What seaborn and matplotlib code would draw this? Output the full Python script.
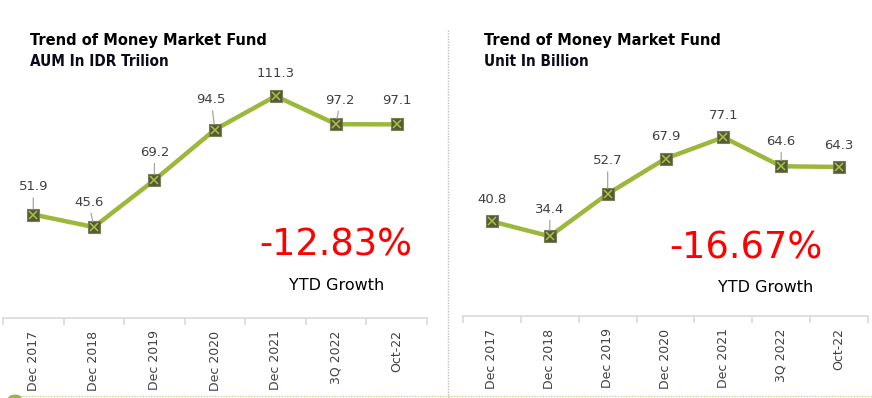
import numpy as np
import pandas as pd
import seaborn as sns
import matplotlib.pyplot as plt
from matplotlib import font_manager
from matplotlib.lines import Line2D
from matplotlib.patches import Circle

# data
periods = ['Dec 2017', 'Dec 2018', 'Dec 2019', 'Dec 2020', 'Dec 2021', '3Q 2022', 'Oct-22']
aum = [51.9, 45.6, 69.2, 94.5, 111.3, 97.2, 97.1]
units = [40.8, 34.4, 52.7, 67.9, 77.1, 64.6, 64.3]
ytd_aum = '-12.83%'
ytd_units = '-16.67%'

# label offsets in points (dx, dy) and whether a leader line is drawn
aum_offsets = [(0, 20), (-3.6, 18), (0, 20), (-2.9, 21.6), (0, 16.6), (2.9, 17.3), (0, 17.3)]
aum_leader = [True, True, True, True, False, True, False]
unit_offsets = [(0, 15.8), (0, 19.4), (0, 23.8), (0, 15.8), (0, 15.8), (0, 18), (0, 15.1)]
unit_leader = [False, True, True, False, False, True, False]

sns.set_style('white')
plt.rcParams['font.family'] = ['DejaVu Sans']

W, H = 872, 398
fig = plt.figure(figsize=(W / 100, H / 100), dpi=100)

GREEN = '#9bb83a'
GRAY_TXT = '#404040'

names = {f.name for f in font_manager.fontManager.ttflist}
condensed = any(f.name == 'DejaVu Sans' and f.stretch == 'condensed'
                for f in font_manager.fontManager.ttflist)
if 'Liberation Sans Narrow' in names:
    title_font = dict(family=['Liberation Sans Narrow'], weight='bold')
    tsize, ssize = 13.2, 12
elif condensed:
    title_font = dict(family=['DejaVu Sans'], weight='bold', stretch='condensed')
    tsize, ssize = 11.7, 11
else:
    title_font = dict(family=['DejaVu Sans'], weight='bold')
    tsize, ssize = 10.2, 9.6


def px(x, y):
    return x / W, 1 - y / H


def panel(rect, values, ylim, offsets, leaders):
    ax = fig.add_axes(rect)
    df = pd.DataFrame({'period': periods, 'value': values})
    sns.lineplot(data=df, x='period', y='value', ax=ax, color=GREEN, lw=3.2,
                 marker='s', markersize=8, markerfacecolor='#56593a',
                 markeredgecolor='#7a7f55', markeredgewidth=0.8, zorder=3)
    ax.plot(range(len(values)), values, ls='none', marker='x', ms=6,
            mew=1.1, color='#a8c43f', zorder=4)
    for i, v in enumerate(values):
        dx, dy = offsets[i]
        ap = dict(arrowstyle='-', color='#a6a6a6', lw=0.9, shrinkA=1, shrinkB=4) if leaders[i] else None
        ax.annotate(f'{v:.1f}', xy=(i, v), xytext=(dx, dy), textcoords='offset points',
                    ha='center', va='center', fontsize=9.5, color=GRAY_TXT,
                    arrowprops=ap)
    ax.set_xlim(-0.5, len(values) - 0.5)
    ax.set_ylim(*ylim)
    ax.set_xlabel('')
    ax.set_ylabel('')
    ax.set_yticks([])
    for s in ['top', 'right', 'left']:
        ax.spines[s].set_visible(False)
    ax.spines['bottom'].set_color('#d9d9d9')
    ax.spines['bottom'].set_linewidth(1.2)
    ax.set_xticks(range(len(values)))
    ax.set_xticklabels(periods, rotation=90, fontsize=9, color=GRAY_TXT)
    ax.set_xticks(np.arange(-0.5, len(values)), minor=True)
    ax.tick_params(axis='x', which='major', length=0, pad=9)
    ax.tick_params(axis='x', which='minor', length=5, color='#d9d9d9', width=1.2, bottom=True)
    ax.patch.set_alpha(0)
    return ax


# left panel: axis from x 3..427, baseline y 318, 1.994 px per unit
l0, b0 = px(3, 318)
panel([l0, b0, 424 / W, 130 * 1.994 / H], aum, (0, 130), aum_offsets, aum_leader)

# right panel: axis from x 463..868, baseline y 316, 2.318 px per unit
l1, b1 = px(463, 316)
panel([l1, b1, 405 / W, 110 * 2.318 / H], units, (0, 110), unit_offsets, unit_leader)

fig.text(*px(30, 40), 'Trend of Money Market Fund', fontsize=tsize, va='center', color='black', **title_font)
fig.text(*px(30, 61), 'AUM In IDR Trilion', fontsize=ssize, va='center', color='#0a0a1a', **title_font)
fig.text(*px(484, 40), 'Trend of Money Market Fund', fontsize=tsize, va='center', color='black', **title_font)
fig.text(*px(484, 61), 'Unit In Billion', fontsize=ssize, va='center', color='#0a0a1a', **title_font)

fig.text(*px(336, 245), ytd_aum, fontsize=26.5, color='#ff0000', ha='center', va='center')
fig.text(*px(337, 286), 'YTD Growth', fontsize=11.5, color='black', ha='center', va='center')
fig.text(*px(746, 248), ytd_units, fontsize=26.5, color='#ff0000', ha='center', va='center')
fig.text(*px(766, 288), 'YTD Growth', fontsize=11.5, color='black', ha='center', va='center')

# separators
fig.add_artist(Line2D([448 / W, 448 / W], [0, 1 - 30 / H], color='#bfbfbf', lw=1, ls=(0, (1, 1))))
fig.add_artist(Line2D([20 / W, 1], [1 - 396 / H] * 2, color='#c5d48f', lw=1, ls=(0, (1, 1))))
fig.add_artist(Circle(px(15, 398), 6 / W, color='#9bb83a', transform=fig.transFigure))

fig.savefig('out.png', dpi=100)
